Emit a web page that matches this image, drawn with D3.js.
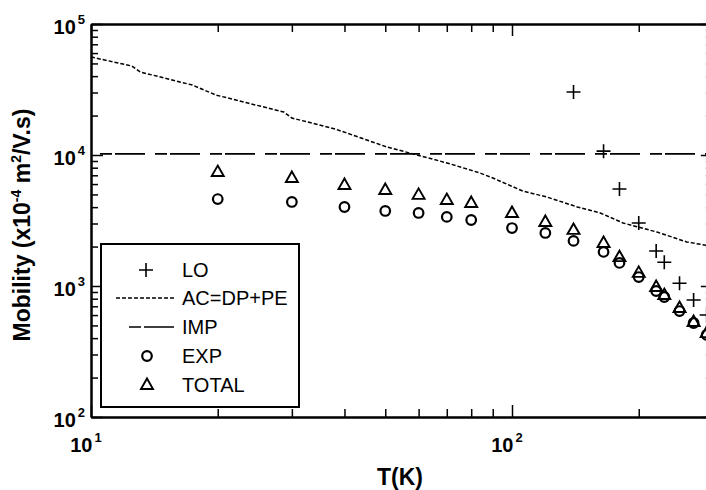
<!DOCTYPE html>
<html>
<head>
<meta charset="utf-8">
<script src="https://cdn.jsdelivr.net/npm/d3@7"></script>
<style>
  html, body { margin: 0; padding: 0; background: #fff; }
  svg { display: block; font-family: "Liberation Sans", Arial, sans-serif; }
</style>
</head>
<body>
<div id="chart"></div>
<script>
// temperatures (K) where the points were measured / computed
const tempPts = [20, 30, 40, 50, 60, 70, 80, 100, 120, 140, 165, 180, 200, 220, 230, 250, 270, 290];
const expVals = [4610, 4380, 4010, 3740, 3610, 3370, 3190, 2770, 2540, 2210, 1820, 1500, 1170, 916, 824, 644, 522, 423];
const totalVals = [7410, 6670, 5900, 5410, 4960, 4530, 4300, 3610, 3080, 2680, 2130, 1660, 1260, 982, 853, 679, 531, 437];

const loTemps = [140, 165, 180, 200, 220, 230, 250, 270, 290];
const loVals = [30300, 10700, 5500, 3030, 1850, 1520, 1050, 782, 601];

// acoustic (DP+PE) curve
const acTemps = [10, 12.5, 13.1, 17.4, 19.8, 23.6, 28.7, 30, 38, 50.5, 58.2, 70.1, 83.9, 90.1, 106, 121, 143, 162, 183.5, 221, 260, 290];
const acVals = [56000, 47800, 43000, 34200, 28700, 24900, 21300, 19150, 15800, 11500, 10200, 8690, 7290, 6670, 5310, 4780, 4010, 3610, 3030, 2580, 2170, 2040];

// ionized impurity (constant)
const impTemps = [10, 300];
const impVals = [10200, 10200];

const xMajor = [10, 100];
const xMinor = [20, 30, 40, 50, 60, 70, 80, 90, 200, 300];
const yMajor = [100, 1000, 10000, 100000];
const yMinor = [];
[100, 1000, 10000].forEach(d => { for (let k = 2; k <= 9; k++) yMinor.push(d * k); });

const legendItems = ["LO", "AC=DP+PE", "IMP", "EXP", "TOTAL"];

const W = 706, H = 490;
const mLeft = 91, mTop = 24, mBottom = 417;
const mRight = 91 + 421 * Math.log10(30);

const svg = d3.select("#chart").append("svg")
    .attr("width", W)
    .attr("height", H);

const x = d3.scaleLog().domain([10, 300]).range([mLeft, mRight]);
const y = d3.scaleLog().domain([100, 100000]).range([mBottom, mTop]);

// axes with inward ticks
function drawAxis(gen, tr, vals, size) {
    const g = svg.append("g")
        .attr("transform", tr)
        .call(gen.tickValues(vals).tickSize(size).tickSizeOuter(0).tickFormat(""));
    g.selectAll("line").attr("stroke", "#000").attr("stroke-width", 1.5);
    g.select(".domain").attr("stroke", "#000").attr("stroke-width", 2);
    return g;
}
drawAxis(d3.axisBottom(x), `translate(0,${mBottom})`, xMinor, -8);
drawAxis(d3.axisBottom(x), `translate(0,${mBottom})`, xMajor, -12);
drawAxis(d3.axisTop(x), `translate(0,${mTop})`, xMinor, -8);
drawAxis(d3.axisTop(x), `translate(0,${mTop})`, xMajor, -12);
drawAxis(d3.axisLeft(y), `translate(${mLeft},0)`, yMinor, -7);
drawAxis(d3.axisLeft(y), `translate(${mLeft},0)`, yMajor, -12);
drawAxis(d3.axisRight(y), `translate(${mRight},0)`, yMinor, -7);
drawAxis(d3.axisRight(y), `translate(${mRight},0)`, yMajor, -12);

// power-of-ten labels
function powLabel(px, py, exp, anchor) {
    const t = svg.append("text")
        .attr("x", px).attr("y", py)
        .attr("text-anchor", anchor)
        .attr("font-weight", "bold")
        .attr("font-size", 20);
    t.append("tspan").text("10");
    t.append("tspan").attr("font-size", 13).attr("dx", 2).attr("dy", -10).text(exp);
}
yMajor.forEach(v => powLabel(85, y(v) + 10, Math.round(Math.log10(v)), "end"));
xMajor.forEach(v => powLabel(x(v) - 5, 452, Math.round(Math.log10(v)), "middle"));

svg.append("text")
    .attr("x", 400).attr("y", 485)
    .attr("text-anchor", "middle")
    .attr("font-weight", "bold")
    .attr("font-size", 23)
    .text("T(K)");

const yl = svg.append("text")
    .attr("transform", "translate(30,225) rotate(-90)")
    .attr("text-anchor", "middle")
    .attr("font-weight", "bold")
    .attr("font-size", 23);
yl.append("tspan").text("Mobility (x10");
yl.append("tspan").attr("font-size", 14).attr("dy", -9).text("-4");
yl.append("tspan").attr("dy", 9).text(" m");
yl.append("tspan").attr("font-size", 14).attr("dy", -9).text("2");
yl.append("tspan").attr("dy", 9).text("/V.s)");

// lines
const line = d3.line().x(d => x(d[0])).y(d => y(d[1]));
const plot = svg.append("g");

plot.append("path")
    .datum(d3.zip(impTemps, impVals))
    .attr("d", line)
    .attr("fill", "none")
    .attr("stroke", "#000")
    .attr("stroke-width", 1.6)
    .attr("stroke-dasharray", "12,3,30,10")
    .attr("stroke-dashoffset", 46);

plot.append("path")
    .datum(d3.zip(acTemps, acVals))
    .attr("d", line)
    .attr("fill", "none")
    .attr("stroke", "#000")
    .attr("stroke-width", 1.5)
    .attr("stroke-dasharray", "4,2");

// markers
function triPath(cx, cy) {
    return `M${cx},${cy - 6.5}L${cx + 6},${cy + 4}L${cx - 6},${cy + 4}Z`;
}
function crossPath(cx, cy) {
    return `M${cx - 7},${cy}H${cx + 7}M${cx},${cy - 7}V${cy + 7}`;
}

plot.selectAll("circle.exp")
    .data(d3.zip(tempPts, expVals))
    .join("circle")
    .attr("class", "exp")
    .attr("cx", d => x(d[0]))
    .attr("cy", d => y(d[1]))
    .attr("r", 4.8)
    .attr("fill", "none")
    .attr("stroke", "#000")
    .attr("stroke-width", 2.2);

plot.selectAll("path.tot")
    .data(d3.zip(tempPts, totalVals))
    .join("path")
    .attr("class", "tot")
    .attr("d", d => triPath(x(d[0]), y(d[1])))
    .attr("fill", "none")
    .attr("stroke", "#000")
    .attr("stroke-width", 1.9);

plot.selectAll("path.lo")
    .data(d3.zip(loTemps, loVals))
    .join("path")
    .attr("class", "lo")
    .attr("d", d => crossPath(x(d[0]), y(d[1])))
    .attr("fill", "none")
    .attr("stroke", "#000")
    .attr("stroke-width", 1.6);

// legend
const lg = svg.append("g");
lg.append("rect")
    .attr("x", 101).attr("y", 244)
    .attr("width", 198).attr("height", 163)
    .attr("fill", "#fff")
    .attr("stroke", "#000")
    .attr("stroke-width", 2);

const rowY = [270, 298, 327, 356, 385];
legendItems.forEach((name, i) => {
    lg.append("text")
        .attr("x", 182).attr("y", rowY[i] + 7)
        .attr("font-size", 20)
        .text(name);
});
lg.append("path").attr("d", crossPath(146, rowY[0]))
    .attr("stroke", "#000").attr("stroke-width", 1.6);
lg.append("line")
    .attr("x1", 116).attr("x2", 176).attr("y1", rowY[1]).attr("y2", rowY[1])
    .attr("stroke", "#000").attr("stroke-width", 1.5).attr("stroke-dasharray", "4,2");
lg.append("line")
    .attr("x1", 129).attr("x2", 174).attr("y1", rowY[2]).attr("y2", rowY[2])
    .attr("stroke", "#000").attr("stroke-width", 1.6).attr("stroke-dasharray", "12,3,30,10");
lg.append("circle").attr("cx", 147).attr("cy", rowY[3]).attr("r", 4.8)
    .attr("fill", "none").attr("stroke", "#000").attr("stroke-width", 2.2);
lg.append("path").attr("d", triPath(147, rowY[4]))
    .attr("fill", "none").attr("stroke", "#000").attr("stroke-width", 1.9);
</script>
</body>
</html>
